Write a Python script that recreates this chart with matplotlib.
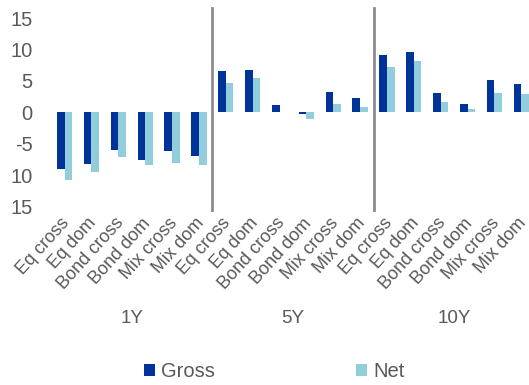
import numpy as np
import matplotlib.pyplot as plt
import matplotlib.transforms as mtransforms

# data
horizons = ['1Y', '5Y', '10Y']
fund_types = ['Eq cross', 'Eq dom', 'Bond cross', 'Bond dom', 'Mix cross', 'Mix dom']
gross = [-9.0, -8.2, -6.0, -7.55, -6.2, -6.9,
         6.6, 6.8, 1.15, -0.25, 3.2, 2.3,
         9.15, 9.6, 3.1, 1.4, 5.1, 4.5]
net = [-10.85, -9.5, -7.1, -8.35, -8.1, -8.35,
       4.7, 5.4, 0.1, -1.0, 1.3, 0.85,
       7.2, 8.2, 1.7, 0.5, 3.1, 3.0]
y_ticks = [15, 10, 5, 0, -5, -10, -15]
y_tick_labels = ['15', '10', '5', '0', '-5', '10', '15']

plt.rcParams['font.family'] = ['Liberation Sans', 'DejaVu Sans']
text_color = '#595959'
gross_color = '#003399'
net_color = '#92CDDC'

fig = plt.figure(figsize=(5.29, 3.85), dpi=100)
ax = fig.add_axes([0.0968, 0.4639, 0.914, 0.4886])

labels = fund_types * len(horizons)
x = np.arange(len(labels))
w = 0.285
ax.bar(x - w / 2, gross, width=w, color=gross_color, label='Gross')
ax.bar(x + w / 2, net, width=w, color=net_color, label='Net')

ax.set_xlim(-0.5, len(labels) - 0.5)
ax.set_ylim(-15, 15)
ax.set_yticks(y_ticks)
ax.set_yticklabels(y_tick_labels)
ax.tick_params(axis='y', length=0, pad=13.5, labelsize=14.5, labelcolor=text_color)
ax.set_xticks(x)
ax.set_xticklabels(labels, rotation=48, ha='right', va='top', rotation_mode='anchor')
ax.tick_params(axis='x', length=0, pad=0, labelsize=13, labelcolor=text_color)
# nudge rotated labels so their upper end sits under the tick
shift = mtransforms.ScaledTranslation(-3 / 72, -6 / 72, fig.dpi_scale_trans)
for t in ax.get_xticklabels():
    t.set_transform(t.get_transform() + shift)
for s in ax.spines.values():
    s.set_visible(False)

# group separators and group labels
n = len(fund_types)
for i in range(1, len(horizons)):
    ax.axvline(i * n - 0.5, ymin=-0.02, ymax=1.055, color='#8c8c8c', lw=2, clip_on=False)
for i, h in enumerate(horizons):
    ax.text(i * n + (n - 1) / 2, -0.595, h, transform=ax.get_xaxis_transform(),
            ha='center', va='center', fontsize=13.5, color=text_color)

fig.legend(loc='center', bbox_to_anchor=(0.518, 0.034), ncol=2, frameon=False,
           fontsize=14.5, labelcolor=text_color, handlelength=0.55, handleheight=0.55,
           handletextpad=0.3, columnspacing=7.0)

fig.savefig('out.png', dpi=100)
